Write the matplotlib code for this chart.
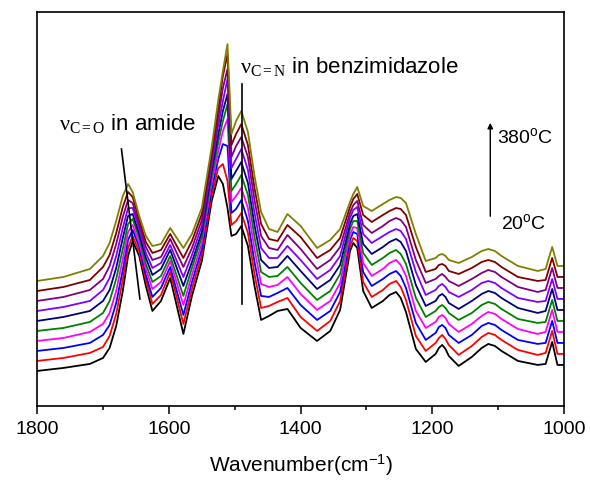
import matplotlib
matplotlib.use('Agg')
import matplotlib.pyplot as plt
from matplotlib.ticker import MultipleLocator, NullLocator

plt.rcParams['font.family'] = ['Liberation Sans', 'DejaVu Sans']
plt.rcParams['mathtext.fontset'] = 'custom'
plt.rcParams['mathtext.rm'] = 'Liberation Serif'
plt.rcParams['mathtext.it'] = 'Liberation Serif:italic'
plt.rcParams['axes.unicode_minus'] = False

# wavenumber grid (cm-1) and stacked spectra (offset units)
wavenumber = [1800, 1760, 1720, 1700, 1690, 1680, 1670, 1662, 1655, 1645, 1635, 1625, 1612, 1598,
              1588, 1578, 1565, 1550, 1535, 1525, 1518, 1511, 1505, 1498, 1490, 1480, 1470, 1460,
              1448, 1435, 1420, 1400, 1375, 1355, 1340, 1325, 1320, 1314, 1305,
              1292, 1275, 1265, 1255, 1248, 1240, 1225, 1210, 1195, 1190, 1185, 1180, 1175, 1160,
              1140, 1125, 1115, 1105, 1095, 1070, 1040, 1028, 1018, 1010, 1000]

temps = [20, 60, 100, 140, 180, 220, 260, 300, 340, 380]
colors = ['#000000', '#ff0000', '#0000ff', '#ff00ff', '#008000',
          '#000080', '#8000ff', '#800080', '#800000', '#808000']

y_20 = [35, 38, 42, 48, 58, 80, 115, 150, 165, 150, 120, 95, 105, 128, 100, 72, 110, 145, 205, 230,
        222, 198, 170, 172, 180, 160, 120, 86, 90, 95, 97, 78, 65, 75, 96, 155, 163, 158, 115,
        98, 105, 111, 114, 108, 94, 57, 44, 52, 58, 61, 57, 50, 40,
        49, 58, 62, 60, 55, 45, 41, 42, 64, 41, 41]
y_60 = [45, 48, 53, 59, 70, 92, 126, 158, 170, 154, 126, 102, 111, 134, 108, 82, 117, 151, 211, 238,
        242, 225, 181, 185, 193, 173, 132, 98, 100, 104, 108, 89, 75, 85, 105, 160, 168, 165, 124,
        109, 116, 122, 125, 119, 106, 70, 55, 63, 68, 71, 67, 61, 51,
        60, 69, 73, 71, 66, 56, 51, 53, 75, 52, 52]
y_100 = [55, 58, 63, 71, 81, 103, 136, 166, 176, 159, 131, 109, 118, 139, 115, 91, 124, 157, 217, 247,
         262, 260, 193, 197, 206, 185, 144, 110, 109, 113, 118, 101, 86, 95, 114, 166, 174, 172, 134,
         120, 127, 132, 135, 130, 118, 83, 66, 73, 79, 81, 78, 71, 63,
         71, 80, 83, 81, 76, 66, 62, 63, 85, 63, 63]
y_140 = [65, 68, 74, 82, 93, 115, 147, 174, 181, 163, 137, 117, 124, 145, 123, 101, 131, 163, 223, 255,
         275, 287, 204, 210, 218, 198, 157, 122, 119, 121, 129, 112, 96, 105, 123, 171, 179, 178, 143,
         130, 137, 143, 146, 141, 130, 95, 78, 84, 89, 91, 88, 82, 74,
         82, 90, 94, 92, 87, 77, 72, 74, 96, 74, 74]
y_180 = [75, 78, 84, 93, 105, 127, 157, 182, 187, 168, 142, 124, 130, 150, 130, 110, 138, 169, 229, 264,
         285, 302, 215, 222, 231, 211, 169, 134, 129, 130, 139, 123, 106, 115, 132, 177, 185, 185, 153,
         141, 148, 153, 156, 152, 142, 108, 89, 95, 99, 101, 98, 93, 86,
         93, 101, 104, 102, 97, 87, 83, 84, 106, 85, 85]
y_220 = [85, 89, 95, 105, 116, 138, 168, 190, 192, 172, 148, 131, 137, 156, 138, 120, 144, 174, 235, 272,
         295, 312, 227, 235, 244, 223, 181, 146, 138, 139, 150, 135, 117, 126, 141, 182, 190, 192, 162,
         152, 159, 164, 167, 164, 155, 121, 100, 105, 110, 112, 109, 103, 97,
         105, 112, 115, 113, 108, 98, 93, 95, 117, 96, 96]
y_260 = [95, 99, 105, 116, 128, 150, 178, 198, 198, 177, 153, 138, 143, 161, 145, 129, 151, 180, 241, 281,
         305, 327, 238, 247, 257, 236, 193, 158, 148, 148, 160, 146, 127, 136, 150, 188, 196, 199, 172,
         163, 170, 174, 177, 175, 167, 134, 111, 116, 120, 122, 119, 114, 109,
         116, 123, 125, 123, 118, 108, 104, 105, 127, 107, 107]
y_300 = [105, 109, 116, 127, 140, 162, 189, 206, 203, 181, 159, 146, 149, 167, 153, 139, 158, 186, 247, 289,
         318, 337, 249, 260, 269, 249, 206, 170, 158, 156, 171, 157, 137, 146, 159, 193, 201, 205, 181,
         173, 180, 185, 188, 186, 179, 146, 123, 127, 130, 132, 129, 125, 120,
         127, 133, 136, 134, 129, 119, 114, 116, 138, 118, 118]
y_340 = [115, 119, 126, 139, 151, 173, 199, 214, 209, 186, 164, 153, 156, 172, 160, 148, 165, 192, 253, 298,
         330, 352, 261, 272, 282, 261, 218, 182, 167, 165, 181, 169, 148, 156, 168, 199, 207, 212, 191,
         184, 191, 195, 198, 197, 191, 159, 134, 137, 141, 142, 140, 135, 132,
         138, 144, 146, 144, 139, 129, 125, 126, 148, 129, 129]
y_380 = [125, 129, 137, 150, 163, 185, 210, 222, 214, 190, 170, 160, 162, 178, 168, 158, 172, 198, 259, 306,
         335, 362, 272, 285, 295, 274, 230, 194, 177, 174, 192, 180, 158, 166, 177, 204, 212, 219, 200,
         195, 202, 206, 209, 208, 203, 172, 145, 148, 151, 152, 150, 146, 143,
         149, 155, 157, 155, 150, 140, 135, 137, 159, 140, 140]

spectra = [y_20, y_60, y_100, y_140, y_180, y_220, y_260, y_300, y_340, y_380]

fig = plt.figure(figsize=(5.9, 4.85), dpi=100)
ax = fig.add_axes([0.063, 0.161, 0.893, 0.812])

for y, c in zip(spectra, colors):
    ax.plot(wavenumber, y, color=c, linewidth=1.3)

# annotation markers
ax.plot([1672, 1644], [257, 107], color='black', linewidth=1.2)
ax.plot([1489, 1489], [322, 102], color='black', linewidth=1.2)
ax.annotate('', xy=(1112, 286), xytext=(1112, 187),
            arrowprops=dict(arrowstyle='-|>', color='black', lw=1.0, mutation_scale=8))

ax.text(1767, 277, r'$\mathrm{\nu_{C=O}}$ in amide', fontsize=16, va='baseline', ha='left')
ax.text(1492, 334, r'$\mathrm{\nu_{C=N}}$ in benzimidazole', fontsize=16, va='baseline', ha='left')
ax.text(1102, 270, r'380$\mathregular{^o}$C', fontsize=14, va='center', ha='left')
ax.text(1096, 184, r'20$\mathregular{^o}$C', fontsize=14, va='center', ha='left')

ax.set_xlim(1800, 1000)
ax.set_ylim(0, 394)
ax.xaxis.set_major_locator(MultipleLocator(200))
ax.xaxis.set_minor_locator(MultipleLocator(100))
ax.yaxis.set_major_locator(NullLocator())
ax.tick_params(axis='x', which='major', direction='out', length=6, width=1.1, labelsize=14, pad=4)
ax.tick_params(axis='x', which='minor', direction='out', length=3, width=1.1)
ax.set_xlabel(r'Wavenumber(cm$\mathregular{^{-1}}$)', fontsize=15, labelpad=10)
for s in ax.spines.values():
    s.set_linewidth(1.2)

fig.savefig('out.png', dpi=100)
